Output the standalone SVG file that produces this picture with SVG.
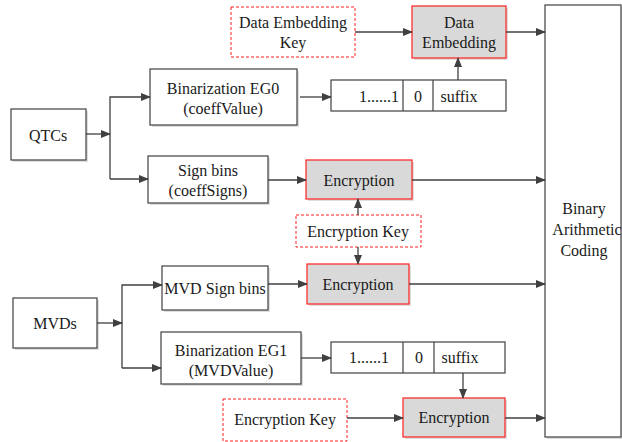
<svg xmlns="http://www.w3.org/2000/svg" width="622" height="442" viewBox="0 0 622 442">
  <style>
    .box { fill: #ffffff; stroke: #404040; stroke-width: 1.2; }
    .op { fill: #d9d9d9; stroke: #ff2020; stroke-width: 1.2; }
    .key { fill: #ffffff; stroke: #ff2020; stroke-width: 1; stroke-dasharray: 3 2; }
    .shadow { fill: #c8c8c8; opacity: 0.6; }
    .div { stroke: #404040; stroke-width: 1.2; }
    text { font-family: "Times New Roman", Times, "Liberation Serif", serif; font-size: 16px; fill: #1a1a1a; text-anchor: middle; dominant-baseline: central; }
    .wire { fill: none; stroke: #404040; stroke-width: 1.3; }
  </style>
  <defs>
    <marker id="arr" markerWidth="10" markerHeight="8" refX="9" refY="4" orient="auto" markerUnits="userSpaceOnUse">
      <path d="M0,0 L10,4 L0,8 Z" fill="#404040"/>
    </marker>
  </defs>

  <rect width="622" height="442" fill="#ffffff"/>

  <!-- binary arithmetic coding engine -->
  <g id="bac">
    <rect class="shadow" x="547" y="7" width="76" height="432"/>
    <rect class="box" x="545" y="5" width="76" height="432"/>
    <text x="584" y="208">Binary</text>
    <text x="587" y="229">Arithmetic</text>
    <text x="584" y="250">Coding</text>
  </g>

  <!-- residual path -->
  <g id="qtcs">
    <rect class="shadow" x="13" y="111" width="75" height="51"/>
    <rect class="box" x="11" y="109" width="75" height="51"/>
    <text x="48" y="135">QTCs</text>
  </g>
  <g id="bin-eg0">
    <rect class="shadow" x="152" y="71" width="147" height="56"/>
    <rect class="box" x="150" y="69" width="147" height="56"/>
    <text x="223" y="88">Binarization EG0</text>
    <text x="223" y="108">(coeffValue)</text>
  </g>
  <g id="bits-eg0">
    <rect class="box" x="331" y="80" width="175" height="31"/>
    <line class="div" x1="403" y1="80" x2="403" y2="111"/>
    <line class="div" x1="433" y1="80" x2="433" y2="111"/>
    <text x="379" y="96">1......1</text>
    <text x="418" y="96">0</text>
    <text x="459" y="96">suffix</text>
  </g>
  <g id="de-key">
    <rect class="key" x="231" y="7" width="124" height="50"/>
    <text x="293" y="22">Data Embedding</text>
    <text x="293" y="42">Key</text>
  </g>
  <g id="data-embedding">
    <rect class="shadow" x="414" y="8" width="94" height="52"/>
    <rect class="op" x="412" y="6" width="94" height="52"/>
    <text x="459" y="22">Data</text>
    <text x="459" y="42">Embedding</text>
  </g>
  <g id="sign-bins">
    <rect class="shadow" x="150" y="158" width="120" height="47"/>
    <rect class="box" x="148" y="156" width="120" height="47"/>
    <text x="208" y="170">Sign bins</text>
    <text x="208" y="190">(coeffSigns)</text>
  </g>
  <g id="enc-sign">
    <rect class="shadow" x="308" y="162" width="106" height="39"/>
    <rect class="op" x="306" y="160" width="106" height="39"/>
    <text x="359" y="180">Encryption</text>
  </g>
  <g id="enc-key">
    <rect class="key" x="296" y="215" width="125" height="32"/>
    <text x="358" y="231">Encryption Key</text>
  </g>

  <!-- motion vector path -->
  <g id="mvds">
    <rect class="shadow" x="15" y="300" width="84" height="50"/>
    <rect class="box" x="13" y="298" width="84" height="50"/>
    <text x="55" y="323">MVDs</text>
  </g>
  <g id="mvd-sign">
    <rect class="shadow" x="164" y="268" width="106" height="44"/>
    <rect class="box" x="162" y="266" width="106" height="44"/>
    <text x="215" y="288">MVD Sign bins</text>
  </g>
  <g id="enc-mvd-sign">
    <rect class="shadow" x="309" y="266" width="102" height="40"/>
    <rect class="op" x="307" y="264" width="102" height="40"/>
    <text x="358" y="284">Encryption</text>
  </g>
  <g id="bin-eg1">
    <rect class="shadow" x="163" y="334" width="140" height="52"/>
    <rect class="box" x="161" y="332" width="140" height="52"/>
    <text x="231" y="350">Binarization EG1</text>
    <text x="231" y="370">(MVDValue)</text>
  </g>
  <g id="bits-eg1">
    <rect class="box" x="331" y="342" width="174" height="31"/>
    <line class="div" x1="403" y1="342" x2="403" y2="373"/>
    <line class="div" x1="434" y1="342" x2="434" y2="373"/>
    <text x="369" y="357">1......1</text>
    <text x="419" y="357">0</text>
    <text x="460" y="357">suffix</text>
  </g>
  <g id="enc-key-mvd">
    <rect class="key" x="223" y="399" width="124" height="42"/>
    <text x="285" y="419">Encryption Key</text>
  </g>
  <g id="enc-mvd-value">
    <rect class="shadow" x="405" y="400" width="102" height="39"/>
    <rect class="op" x="403" y="398" width="102" height="39"/>
    <text x="454" y="417">Encryption</text>
  </g>

  <!-- connectors -->
  <g id="connectors">
    <path class="wire" d="M86,134 H110" marker-end="url(#arr)"/>
    <path class="wire" d="M110,179 V97 H150" marker-end="url(#arr)"/>
    <path class="wire" d="M110,179 H148" marker-end="url(#arr)"/>
    <path class="wire" d="M300,97 H331" marker-end="url(#arr)"/>
    <path class="wire" d="M458,80 V58" marker-end="url(#arr)"/>
    <path class="wire" d="M355,32 H412" marker-end="url(#arr)"/>
    <path class="wire" d="M506,32 H545" marker-end="url(#arr)"/>
    <path class="wire" d="M268,180 H306" marker-end="url(#arr)"/>
    <path class="wire" d="M412,180 H545" marker-end="url(#arr)"/>
    <path class="wire" d="M358,215 V199" marker-end="url(#arr)"/>
    <path class="wire" d="M358,247 V264" marker-end="url(#arr)"/>
    <path class="wire" d="M97,323 H122" marker-end="url(#arr)"/>
    <path class="wire" d="M122,368 V285 H162" marker-end="url(#arr)"/>
    <path class="wire" d="M122,368 H161" marker-end="url(#arr)"/>
    <path class="wire" d="M268,284 H307" marker-end="url(#arr)"/>
    <path class="wire" d="M409,284 H545" marker-end="url(#arr)"/>
    <path class="wire" d="M301,358 H331" marker-end="url(#arr)"/>
    <path class="wire" d="M463,373 V398" marker-end="url(#arr)"/>
    <path class="wire" d="M347,418 H403" marker-end="url(#arr)"/>
    <path class="wire" d="M505,418 H545" marker-end="url(#arr)"/>
  </g>
</svg>
